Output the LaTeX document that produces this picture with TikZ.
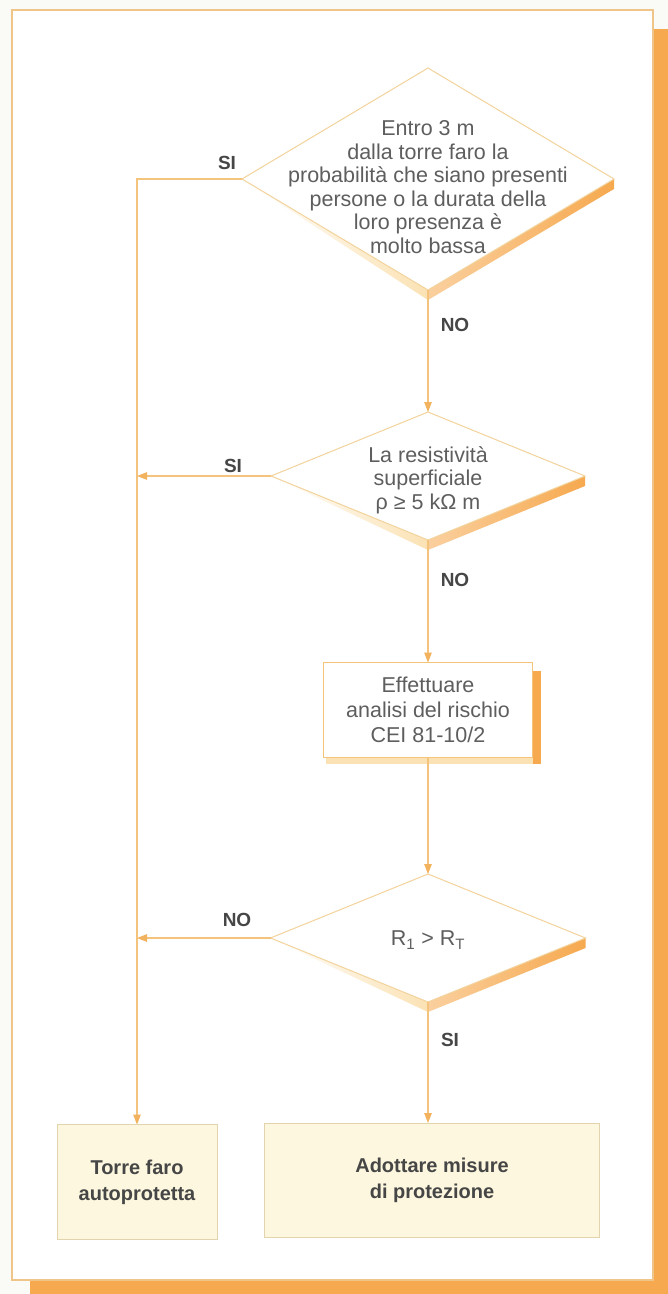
\documentclass[tikz,border=0pt]{standalone}
\usepackage{fontspec}
\setmainfont{Liberation Sans}
\usetikzlibrary{shapes.geometric,arrows.meta,calc}

\definecolor{pagebg}{HTML}{FAFAF6}
\definecolor{frameline}{HTML}{F0C58A}
\definecolor{shadeor}{HTML}{F6A94F}
\definecolor{flowline}{HTML}{F4C47C}
\definecolor{tipcol}{HTML}{F2B25E}
\definecolor{diaedge}{HTML}{F2D39C}
\definecolor{txtgray}{HTML}{5E5E5E}
\definecolor{lblgray}{HTML}{464646}
\definecolor{cream}{HTML}{FCF7DE}
\definecolor{creamedge}{HTML}{E2D4AC}
\definecolor{softshade}{HTML}{FBE2B4}

\pgfdeclarelayer{panel}
\pgfdeclarelayer{shade}
\pgfsetlayers{panel,shade,main}

\tikzset{
  decision/.style 2 args={diamond, draw=diaedge, line width=1pt, fill=white,
    inner sep=0pt, outer sep=0pt, minimum width=#1, minimum height=#2},
  bodytext/.style={align=center, text=txtgray, inner sep=0pt,
    font=\fontsize{21.5}{23.6}\selectfont},
  actionbox/.style={rectangle, draw=flowline, line width=1pt, fill=white,
    align=center, text=txtgray, outer sep=0pt,
    font=\fontsize{21.5}{24.8}\selectfont},
  resultbox/.style={rectangle, draw=creamedge, line width=0.8pt, fill=cream,
    align=center, text=lblgray, outer sep=0pt,
    font=\bfseries\fontsize{20}{26}\selectfont},
  answer/.style={text=lblgray, inner sep=0pt, font=\bfseries\fontsize{19}{22}\selectfont},
  flow/.style={draw=flowline, line width=1.3pt},
  flowarrow/.style={flow, -{Triangle[length=10pt,width=7.5pt,color=tipcol]}},
  dshadow/.style={left color=shadeor!55, right color=shadeor},
  dsoft/.style={left color=white, right color=softshade},
}

\begin{document}
\begin{tikzpicture}[x=1pt, y=-1pt]
  \useasboundingbox (0,0) rectangle (668,1294);

  % page, card and its drop shadow
  \begin{pgfonlayer}{panel}
    \fill[pagebg] (0,0) rectangle (668,1294);
    \fill[shadeor] (653,29) rectangle (668,1294);
    \fill[shadeor] (30,1280) rectangle (668,1294);
    \filldraw[fill=white, draw=frameline, line width=1.3pt] (12,10) rectangle (653,1280);
  \end{pgfonlayer}

  % decisions and actions
  \node[decision={372pt}{222pt}] (d1) at (428,179) {};
  \node[bodytext] (d1t) at (428,187) {Entro 3 m\\dalla torre faro la\\probabilità che siano presenti\\persone o la durata della\\loro presenza è\\molto bassa};

  \node[decision={314pt}{128pt}] (d2) at (428,476) {};
  \node[bodytext] (d2t) at (428,480) {La resistività\\superficiale\\ρ ≥ 5 kΩ m};

  \node[actionbox, minimum width=209pt, minimum height=95pt] (b3) at (428,710) {Effettuare\\analisi del rischio\\CEI 81-10/2};

  \node[decision={315pt}{128pt}] (d3) at (428,938) {};
  \node[bodytext] (d3t) at (428,940) {R\textsubscript{1} > R\textsubscript{T}};

  \node[resultbox, minimum width=160pt, minimum height=115pt] (b4) at (137,1182) {Torre faro\\autoprotetta};
  \node[resultbox, minimum width=335pt, minimum height=114pt] (b5) at (432,1180) {Adottare misure\\di protezione};

  % shadows behind the shapes
  \begin{pgfonlayer}{shade}
    \foreach \d in {d1,d2,d3}{
      \shade[dsoft] (\d.west) -- ($(\d.south)+(0,10)$) -- (\d.south) -- cycle;
      \shade[dshadow] (\d.east) -- ($(\d.east)+(0,10)$) -- ($(\d.south)+(0,10)$) -- (\d.south) -- cycle;
    }
    \fill[softshade] ($(b3.south west)+(2,0)$) rectangle ($(b3.south east)+(8,6)$);
    \fill[shadeor] ($(b3.north east)+(0,8)$) rectangle ($(b3.south east)+(8,6)$);
  \end{pgfonlayer}

  % connectors
  \draw[flowarrow] (d1.south) -- (d2.north);
  \draw[flowarrow] (d2.south) -- (b3.north);
  \draw[flowarrow] (b3.south) -- (d3.north);
  \draw[flowarrow] (d3.south) -- (d3.south |- b5.north);
  \draw[flowarrow] (d1.west) -| (b4.north);
  \draw[flowarrow] (d2.west) -- (d2.west -| b4.north);
  \draw[flowarrow] (d3.west) -- (d3.west -| b4.north);

  % branch answers
  \node[answer] (a1) at (227,163) {SI};
  \node[answer] (a2) at (455,325) {NO};
  \node[answer] (a3) at (233,466) {SI};
  \node[answer] (a4) at (455,580) {NO};
  \node[answer] (a5) at (237,920) {NO};
  \node[answer] (a6) at (450,1040) {SI};
\end{tikzpicture}
\end{document}
